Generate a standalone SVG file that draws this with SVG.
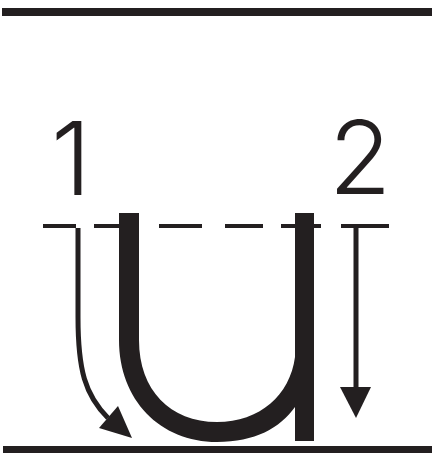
<svg xmlns="http://www.w3.org/2000/svg" width="432" height="456" viewBox="0 0 432 456">
<style>
.rule{fill:#231f20}
.dash{stroke:#231f20;stroke-width:4;fill:none}
.num{font-family:Inter,"Noto Sans","DejaVu Sans",sans-serif;font-weight:300;font-size:102px;fill:#231f20;text-anchor:middle}
.arr{stroke:#231f20;stroke-width:5;fill:none}
.head{fill:#231f20}
.letter{fill:#231f20}
</style>
<g id="guides">
<rect class="rule" x="2" y="8" width="430" height="8"/>
<rect class="rule" x="3" y="446" width="429" height="7"/>
<path class="dash" d="M43 226H76M94 226H119M159 226H202M225 226H263M281 226H295M314 226H321M341 226H389"/>
</g>
<g id="label-1"><text class="num" x="71" y="195">1</text></g>
<g id="label-2"><text class="num" x="360" y="194">2</text></g>
<g id="letter-u">
<path class="letter" d="M119 213H139V340C139 390 170 422 217 422C260 422 290 395 295 357V213H314V441H295V407C280 428 255 442 217 442C160 442 119 400 119 340Z"/>
</g>
<g id="connectors">
<path class="arr" d="M78 228V317C78 370 85 395 108 418"/>
<polygon class="head" points="99,428 118,406 132,438"/>
<path class="arr" d="M356 228V390"/>
<polygon class="head" points="340,387 371,387 356,418"/>
</g>
</svg>
